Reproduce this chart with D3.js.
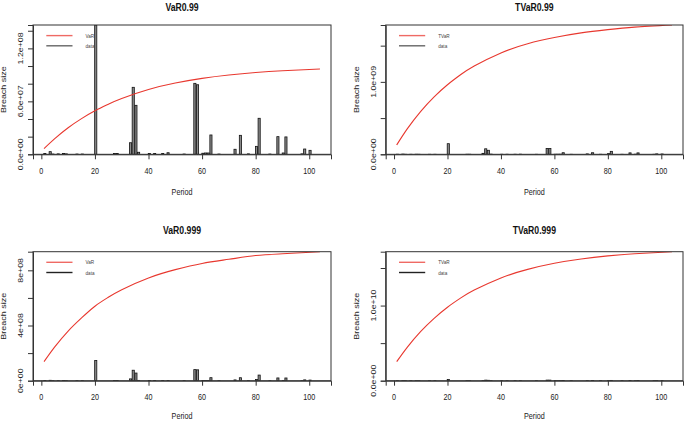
<!DOCTYPE html>
<html><head><meta charset="utf-8">
<script src="https://cdn.jsdelivr.net/npm/d3@7"></script>
<style>body{margin:0;background:#fff}svg{display:block}</style>
</head><body>
<script>
// ---- data ----
const periods = d3.range(1, 105);
// breach size per period, in units of 1e6
const breachM = [
  1.0, 0, 3.0, 0.3, 0, 0.5, 0, 1.0, 0.5, 0,
  0, 0, 0.3, 0, 0.3, 0, 0, 0, 0, 146.5,
  0, 0, 0, 0, 0, 0, 1.0, 0.8, 0, 0,
  0, 0, 13.1, 75.9, 55.5, 2.3, 0, 0, 0, 0.8,
  0, 0.8, 0, 0, 0.8, 0, 1.8, 0, 0, 0,
  0, 0, 0.3, 0, 0, 0, 80.4, 78.8, 0, 1.2,
  1.5, 1.5, 21.9, 0, 0, 0.3, 0, 0, 0, 0,
  0, 5.7, 0, 21.5, 0, 0, 0.5, 0, 0, 9.0,
  40.8, 0, 0, 0, 0.3, 0, 0, 20.0, 0, 1.5,
  19.7, 0, 0, 0, 0, 0, 0.5, 6.0, 0, 4.5,
  0, 0, 0, 0
];
const curvePeriods = [1, 5, 10, 15, 20, 25, 30, 40, 50, 60, 70, 80, 90, 104];
const var99   = [0.65, 1.78, 3.01, 4.04, 4.93, 5.68, 6.33, 7.34, 8.07, 8.60, 8.98, 9.265, 9.468, 9.66];       // x1e7
const tvar99  = [0.129, 0.354, 0.593, 0.793, 0.96, 1.101, 1.219, 1.40, 1.527, 1.612, 1.676, 1.721, 1.756, 1.785]; // x1e9
const var999  = [1.38, 2.45, 3.6, 4.55, 5.4, 6.05, 6.6, 7.45, 8.05, 8.5, 8.8, 9.07, 9.2, 9.35];           // x1e8
const tvar999 = [0.253, 0.447, 0.656, 0.83, 0.978, 1.102, 1.206, 1.368, 1.482, 1.563, 1.62, 1.661, 1.69, 1.717]; // x1e10
const titles = ["VaR0.99", "TVaR0.99", "VaR0.999", "TVaR0.999"];
const legendNames = ["VaR", "TVaR", "VaR", "TVaR"];
const xTicks = [0, 20, 40, 60, 80, 100];
const yTicks = [
  [0, 2e7, 4e7, 6e7, 8e7, 1e8, 1.2e8, 1.4e8],
  [0, 5e8, 1e9, 1.5e9],
  [0, 2e8, 4e8, 6e8, 8e8],
  [0, 5e9, 1e10, 1.5e10]
];
const yLabels = [
  ["0.0e+00", "", "", "6.0e+07", "", "", "1.2e+08", ""],
  ["0.0e+00", "", "1.0e+09", ""],
  ["0e+00", "", "4e+08", "", "8e+08"],
  ["0.0e+00", "", "1.0e+10", ""]
];

// ---- layout ----
const W = 685, H = 422;
const FONT = "'Liberation Sans', Arial, sans-serif";
const boxes = [
  {l: 33, r: 331, t: 25, b: 154.3},
  {l: 385.7, r: 683, t: 25, b: 154.3},
  {l: 33, r: 331, t: 251.7, b: 380.7},
  {l: 385.7, r: 683, t: 251.7, b: 380.7}
];
const curves = [
  var99.map(v => v * 1e7), tvar99.map(v => v * 1e9),
  var999.map(v => v * 1e8), tvar999.map(v => v * 1e10)
];
const breach = breachM.map(v => v * 1e6);

const svg = d3.select("body").append("svg").attr("width", W).attr("height", H);
const SX = 0.8;

function htext(x, y, str, size, opts = {}) {
  return svg.append("text")
    .attr("transform", `translate(${x},${y}) scale(${opts.sx || SX},1)`)
    .attr("text-anchor", opts.anchor || "middle")
    .attr("font-family", FONT).attr("font-size", size)
    .attr("font-weight", opts.weight || "normal")
    .attr("fill", opts.fill || "#222").text(str);
}
function vtext(x, y, str, size) {
  return svg.append("text")
    .attr("transform", `translate(${x},${y}) rotate(-90) scale(1,${SX})`)
    .attr("text-anchor", "middle")
    .attr("font-family", FONT).attr("font-size", size)
    .attr("fill", "#222").text(str);
}

boxes.forEach((bx, i) => {
  const x = d3.scaleLinear().domain([1 - 0.04 * 103, 104 + 0.04 * 103]).range([bx.l, bx.r]);
  const ymax = Math.max(d3.max(breach), d3.max(curves[i]));
  const y = d3.scaleLinear().domain([0, ymax]).range([bx.b, bx.t]);

  const clipId = "clip" + i;
  svg.append("clipPath").attr("id", clipId).append("rect")
    .attr("x", bx.l).attr("y", bx.t).attr("width", bx.r - bx.l).attr("height", bx.b - bx.t);
  const g = svg.append("g").attr("clip-path", `url(#${clipId})`);

  // bars
  const bw = x(0.8) - x(0);
  g.selectAll("rect.bar").data(periods.filter((p, k) => breach[k] > 0)).join("rect")
    .attr("class", "bar")
    .attr("x", p => x(p - 0.1))
    .attr("width", bw)
    .attr("y", p => y(breach[p - 1]))
    .attr("height", p => Math.max(0.5, bx.b - y(breach[p - 1])))
    .attr("fill", "#8a8a8a").attr("stroke", "#111").attr("stroke-width", 0.8);

  // curve
  const line = d3.line().x((d, k) => x(curvePeriods[k])).y(d => y(d)).curve(d3.curveNatural);
  g.append("path").attr("d", line(curves[i]))
    .attr("fill", "none").attr("stroke", "#e8382f").attr("stroke-width", 1.1);

  // box
  svg.append("rect").attr("x", bx.l).attr("y", bx.t)
    .attr("width", bx.r - bx.l).attr("height", bx.b - bx.t)
    .attr("fill", "none").attr("stroke", "#333").attr("stroke-width", 1);

  // x axis
  const xa = svg.append("g").attr("transform", `translate(0,${bx.b})`)
    .call(d3.axisBottom(x).tickValues(xTicks).tickSize(5).tickFormat(""));
  xa.select(".domain").attr("stroke", "#333");
  xa.selectAll(".tick line").attr("stroke", "#333");
  xTicks.forEach(t => htext(x(t), bx.b + 19.5, String(t), 9));
  htext((bx.l + bx.r) / 2, bx.b + (i < 2 ? 41 : 38.3), "Period", 9);

  // y axis
  const ya = svg.append("g").attr("transform", `translate(${bx.l},0)`)
    .call(d3.axisLeft(y).tickValues(yTicks[i]).tickSize(5).tickFormat(""));
  ya.select(".domain").attr("stroke", "#333");
  ya.selectAll(".tick line").attr("stroke", "#333");
  yTicks[i].forEach((t, k) => { if (yLabels[i][k]) vtext(bx.l - 9.8, y(t), yLabels[i][k], 8.8); });
  vtext(bx.l - 27.2, (bx.t + bx.b) / 2, "Breach size", 9);

  // title
  htext((bx.l + bx.r) / 2, bx.t - (i < 2 ? 14.3 : 17.4), titles[i], 10.2, {weight: "bold", sx: 0.85, fill: "#111"});

  // legend
  const ly1 = bx.t + 10.6, ly2 = bx.t + 20.8;
  svg.append("line").attr("x1", bx.l + 13.3).attr("x2", bx.l + 39.5).attr("y1", ly1).attr("y2", ly1)
    .attr("stroke", "#ef6a64").attr("stroke-width", 1.4);
  svg.append("line").attr("x1", bx.l + 13.3).attr("x2", bx.l + 39.5).attr("y1", ly2).attr("y2", ly2)
    .attr("stroke", i < 2 ? "#666" : "#222").attr("stroke-width", 1.4);
  htext(bx.l + 52.5, ly1 + 2, legendNames[i], 5.8, {anchor: "start", fill: "#444"});
  htext(bx.l + 52.5, ly2 + 2, "data", 5.8, {anchor: "start", fill: "#444"});
});
</script>
</body></html>
